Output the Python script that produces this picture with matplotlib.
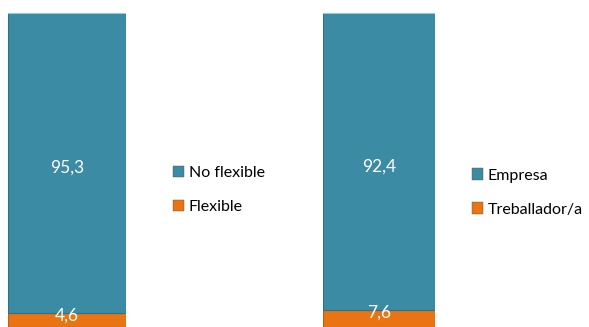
import matplotlib.pyplot as plt
from matplotlib.patches import Patch

plt.rcParams['font.family'] = ['Lato', 'DejaVu Sans']

# data
left_labels = ['No flexible', 'Flexible']
left_values = [95.3, 4.6]
right_labels = ['Empresa', 'Treballador/a']
right_values = [92.4, 7.6]

blue = '#3a8ba3'
orange = '#ea7412'
colors = [blue, orange]

W, H = 589, 327
fig = plt.figure(figsize=(W / 100, H / 100), dpi=100)


def stacked(rect, values, labels, ylim, legend_xy):
    ax = fig.add_axes(rect)
    # orange at bottom, blue on top
    bottom = 0
    for i in [1, 0]:
        v = values[i]
        ax.bar(0, v, width=1, bottom=bottom, color=colors[i],
               edgecolor='#2f7186' if i == 0 else '#c45f0c', linewidth=0.8)
        txt = f'{v:.1f}'.replace('.', ',')
        if i == 0:
            ax.annotate(txt, (0, bottom + v / 2), xytext=(0, -3.5),
                        textcoords='offset points', color='white',
                        fontsize=12.5, ha='center', va='center')
        else:
            # label sits near the top of the thin orange segment
            ax.annotate(txt, (0, bottom + v), xytext=(0, -2.5),
                        textcoords='offset points', color='white',
                        fontsize=12.5, ha='center', va='center')
        bottom += v
    # light top highlight
    ax.plot([-0.5, 0.5], [bottom, bottom], color='#7fd3ea', linewidth=1.5,
            solid_capstyle='butt')
    ax.set_xlim(-0.5, 0.5)
    ax.set_ylim(*ylim)
    ax.axis('off')
    handles = [Patch(facecolor=colors[i], edgecolor='#555555', linewidth=0.3)
               for i in range(2)]
    fig.legend(handles, labels, loc='center left',
               bbox_to_anchor=legend_xy, frameon=False, fontsize=11.5,
               handlelength=0.7, handleheight=0.7, handletextpad=0.3,
               labelspacing=1.25, borderpad=0)
    return ax


stacked([8 / W, 0, 118 / W, 314 / H], left_values, left_labels,
        (0, 99.9), (165 / W, 1 - 190 / H))
stacked([323 / W, -7 / H, 112 / W, 321 / H], right_values, right_labels,
        (0, 100), (464 / W, 1 - 192.5 / H))

fig.savefig('out.png', dpi=100)
